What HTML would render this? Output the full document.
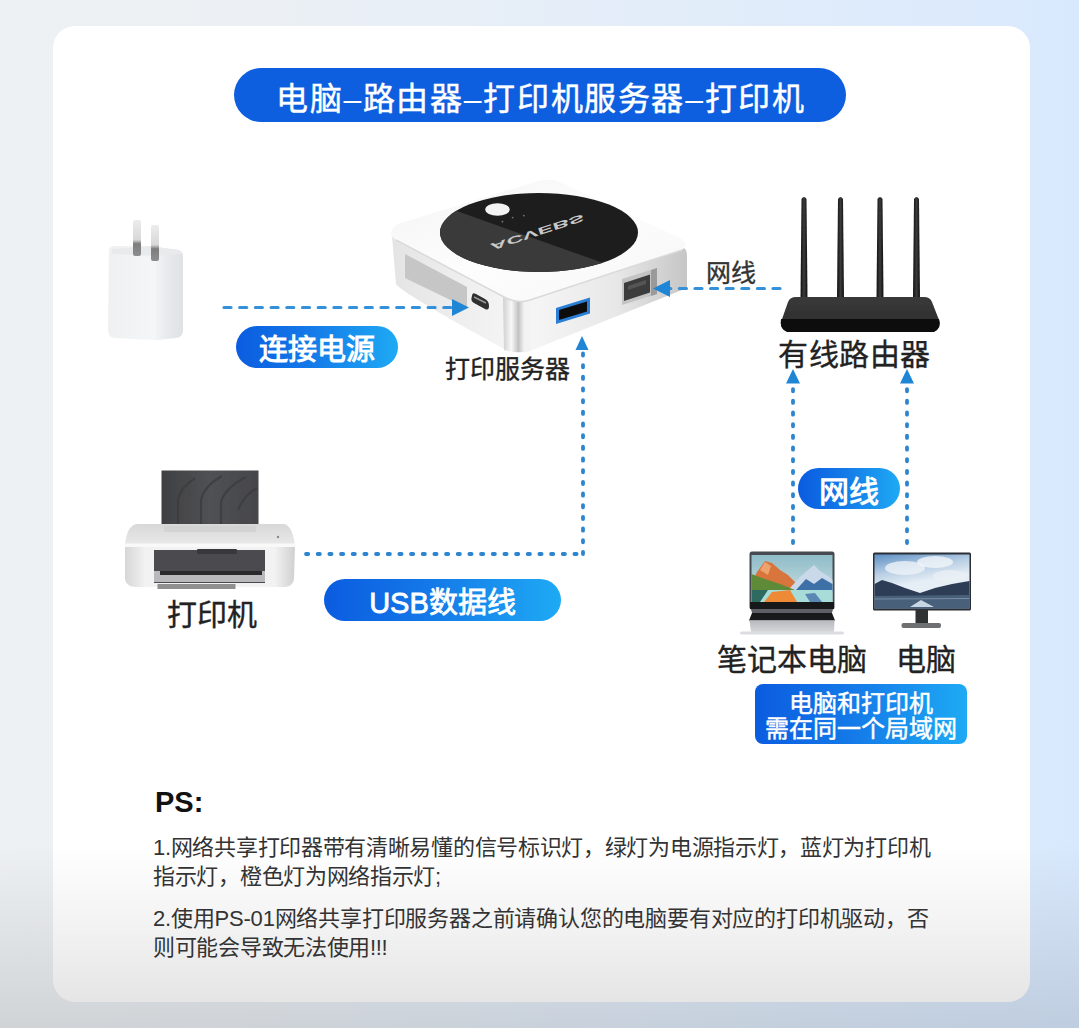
<!DOCTYPE html>
<html lang="zh-CN"><head><meta charset="utf-8">
<style>
html,body{margin:0;padding:0;}
body{width:1079px;height:1028px;overflow:hidden;position:relative;font-family:"Liberation Sans",sans-serif;
background:linear-gradient(90deg,#eef1f3 0%,#ecf0f4 22%,#e3edf9 60%,#d9e9fd 100%);}
#bgb{position:absolute;left:0;top:0;width:1079px;height:1028px;
background:linear-gradient(180deg,rgba(0,0,0,0) 0%,rgba(0,0,0,0) 82%,rgba(0,8,16,0.125) 100%);}
#card{position:absolute;left:53px;top:26px;width:977px;height:976px;border-radius:22px;
background:linear-gradient(180deg,#ffffff 0%,#ffffff 84%,#f3f3f3 92%,#e5e5e5 100%);}
.abs{position:absolute;}
.d{-webkit-text-stroke:0;}
.pill{position:absolute;color:#fff;text-align:center;white-space:nowrap;font-weight:bold;}
.grad{background:linear-gradient(90deg,#0b5ce0 0%,#1479e8 45%,#1eaaf4 100%);}
.lbl{position:absolute;white-space:nowrap;color:#222;font-weight:400;-webkit-text-stroke:0.35px #222;}
.ps{position:absolute;left:153px;white-space:nowrap;color:#333;font-size:22px;letter-spacing:-0.3px;}
</style></head><body>
<div id="bgb"></div>
<div id="card"></div>

<svg class="abs" style="left:0;top:0" width="1079" height="1028" viewBox="0 0 1079 1028">
<defs>
 <filter id="soft" x="-5%" y="-5%" width="110%" height="110%"><feGaussianBlur stdDeviation="0.6"/></filter>
 <filter id="soft2" x="-5%" y="-5%" width="110%" height="110%"><feGaussianBlur stdDeviation="0.45"/></filter>
 <linearGradient id="adFront" x1="0" y1="0" x2="1" y2="0"><stop offset="0" stop-color="#eef0f2"/><stop offset="0.85" stop-color="#f7f8f9"/><stop offset="1" stop-color="#ffffff"/></linearGradient>
 <linearGradient id="adSide" x1="0" y1="0" x2="1" y2="0"><stop offset="0" stop-color="#f2f3f5"/><stop offset="0.5" stop-color="#e6e8eb"/><stop offset="1" stop-color="#dfe1e4"/></linearGradient>
 <linearGradient id="prong" x1="0" y1="0" x2="0" y2="1"><stop offset="0" stop-color="#ececec"/><stop offset="0.55" stop-color="#d8d8d8"/><stop offset="0.66" stop-color="#7d7d7d"/><stop offset="1" stop-color="#8e8e8e"/></linearGradient>
 <linearGradient id="rtTop" x1="0" y1="0" x2="0" y2="1"><stop offset="0" stop-color="#3a3a3a"/><stop offset="1" stop-color="#2a2a2a"/></linearGradient>
 <linearGradient id="ant" x1="0" y1="0" x2="1" y2="0"><stop offset="0" stop-color="#111"/><stop offset="0.5" stop-color="#3a3a3a"/><stop offset="1" stop-color="#111"/></linearGradient>
 <linearGradient id="skyL" x1="0" y1="0" x2="0" y2="1"><stop offset="0" stop-color="#8fbcc8"/><stop offset="1" stop-color="#cfe3e6"/></linearGradient>
 <linearGradient id="skyM" x1="0" y1="0" x2="0.3" y2="1"><stop offset="0" stop-color="#5e8fc4"/><stop offset="0.35" stop-color="#b9cfe4"/><stop offset="0.6" stop-color="#e6eef5"/><stop offset="1" stop-color="#e8eff6"/></linearGradient>
 <linearGradient id="lapBase" x1="0" y1="0" x2="0" y2="1"><stop offset="0" stop-color="#b8b9be"/><stop offset="1" stop-color="#d6d7db"/></linearGradient>
 <linearGradient id="prFront" x1="0" y1="0" x2="1" y2="0"><stop offset="0" stop-color="#d6d6d6"/><stop offset="0.12" stop-color="#f2f2f2"/><stop offset="0.88" stop-color="#f2f2f2"/><stop offset="1" stop-color="#d0d0d0"/></linearGradient>
 <linearGradient id="prTop" x1="0" y1="0" x2="0" y2="1"><stop offset="0" stop-color="#d8d8d8"/><stop offset="1" stop-color="#e9e9e9"/></linearGradient>
 <linearGradient id="tray" x1="0" y1="0" x2="1" y2="0"><stop offset="0" stop-color="#3f4042"/><stop offset="0.5" stop-color="#505153"/><stop offset="1" stop-color="#45464a"/></linearGradient>
</defs>

<!-- ===== power adapter ===== -->
<g filter="url(#soft2)">
 <path d="M109 251 Q109 246 115 246 L150 246 L178 250 Q183 251 183 256 L183 330 Q183 337 176 338 L155 340 L115 338 Q108 337 108 330 Z" fill="url(#adFront)"/>
 <path d="M156 247 L178 250 Q183 251 183 256 L183 330 Q183 337 176 338 L156 340 Z" fill="url(#adSide)"/>
 <path d="M112 249 L150 246 L178 250 Q182 251 182 254 L156 256 L112 254 Z" fill="#e9eaec"/>
 <rect x="133" y="220" width="8" height="36" rx="2" fill="url(#prong)"/>
 <rect x="151" y="225" width="8" height="36" rx="2" fill="url(#prong)"/>
</g>

<!-- ===== router ===== -->
<g filter="url(#soft2)">
 <path d="M800.5 298 L801.5 199 Q804 195 806.5 199 L807.5 298 Z" fill="url(#ant)"/>
 <path d="M837 298 L838 199 Q840.5 195 843 199 L844 298 Z" fill="url(#ant)"/>
 <path d="M876.5 298 L877.5 199 Q880 195 882.5 199 L883.5 298 Z" fill="url(#ant)"/>
 <path d="M913 298 L914 199 Q916.5 195 919 199 L920 298 Z" fill="url(#ant)"/>
 <path d="M796 297 L924 297 Q930 297 932 302 L939 320 Q941 326 936 330 L931 332 L789 332 Q780 330 781 322 L788 302 Q790 297 796 297 Z" fill="url(#rtTop)"/>
 <path d="M781 319 L939 319 Q942 328 934 332 L787 332 Q779 328 781 319 Z" fill="#0b0b0b"/>
</g>

<!-- ===== laptop ===== -->
<g>
 <rect x="749.5" y="551.5" width="85" height="58" rx="2.5" fill="#464b52"/>
 <g filter="url(#soft)">
 <rect x="751.5" y="555" width="81" height="47" fill="url(#skyL)"/>
 <path d="M751.5 583 L757 572 L765 561 L772 563 L780 570 L788 575 L795 582 L800 588 L751.5 590 Z" fill="#d8743c"/>
 <path d="M760 570 L765 562 L771 566 L768 575 Z" fill="#eea36e"/>
 <path d="M790 588 L800 577 L808 570 L814 565 L820 571 L828 576 L832.5 580 L832.5 590 L790 590 Z" fill="#c9d9ea"/>
 <path d="M796 590 L806 579 L814 584 L822 578 L832.5 584 L832.5 592 L796 592 Z" fill="#3e6fa6"/>
 <path d="M751.5 574 L762 578 L780 584 L795 590 L751.5 592 Z" fill="#5f8a39"/>
 <rect x="751.5" y="590" width="81" height="12" fill="#a8dcd8"/>
 <path d="M764 602 L772 592 L790 590 L797 602 Z" fill="#ee8a36"/>
 <path d="M751.5 590 L768 590 L760 602 L751.5 602 Z" fill="#2e6a5e"/>
 <path d="M805 594 L815 593 L822 602 L810 602 Z" fill="#5a88b5"/>
 </g>
 <rect x="750" y="602" width="84" height="7" fill="#16181a"/>
 <path d="M751 609 L833 609 L832 613 L752 613 Z" fill="#5c5f65"/>
 <path d="M752 613 L832 613 L835 620.5 L749 620.5 Z" fill="#18191b"/>
 <path d="M749.5 620.5 L834.5 620.5 L834 632 L751 632 Z" fill="url(#lapBase)"/>
 <rect x="740" y="631.5" width="104" height="3" rx="1.5" fill="#dcdde0"/>
</g>

<!-- ===== monitor ===== -->
<g filter="url(#soft2)">
 <rect x="873" y="552.5" width="98" height="58" rx="1.5" fill="#2a2e34"/>
 <rect x="874.5" y="554.5" width="95" height="54" fill="url(#skyM)"/>
 <ellipse cx="905" cy="568" rx="20" ry="7" fill="#eef3f8" opacity="0.8"/>
 <ellipse cx="935" cy="562" rx="18" ry="6" fill="#f3f6fa" opacity="0.8"/>
 <ellipse cx="950" cy="576" rx="17" ry="6" fill="#e9eff5" opacity="0.8"/>
 <path d="M874.5 584 L882 580 L892 583 L905 588 L920 593 L935 588 L952 584 L969.5 581 L969.5 608.5 L874.5 608.5 Z" fill="#2d3d56"/>
 <path d="M874.5 596 L969.5 595 L969.5 608.5 L874.5 608.5 Z" fill="#4a607a"/>
 <path d="M874.5 599 L969.5 598.5" stroke="#8aa0b5" stroke-width="1" opacity="0.7"/>
 <path d="M910 607 L921 600 L934 607 Z" fill="#c8d6e4"/>
 <rect x="915.5" y="609.5" width="12.5" height="15" fill="#2f3033"/>
 <rect x="901.5" y="623" width="39.5" height="5" rx="2" fill="#6e6f72"/>
</g>

<!-- ===== printer ===== -->
<g filter="url(#soft2)">
 <rect x="161.5" y="470.5" width="97" height="56" fill="url(#tray)"/>
 <g filter="url(#soft)" stroke="#3b3c3f" stroke-width="2.2" fill="none" opacity="0.8">
  <path d="M178 526 L178 500 Q180 488 195 478"/>
  <path d="M201 526 L201 500 Q204 486 222 476"/>
  <path d="M221 526 L221 502 Q225 488 246 477"/>
  <path d="M238 510 Q244 495 257 488"/>
 </g>
 <path d="M137 524 L284 524 Q292 525 295 545 L125 545 Q127 525 137 524 Z" fill="url(#prTop)"/>
 <rect x="164" y="526" width="92" height="6" fill="#cfcfcf" opacity="0.7"/>
 <path d="M125 545 L295 545 L294 579 Q293 586 285 587 L135 587 Q126 586 125 579 Z" fill="url(#prFront)"/>
 <rect x="124.5" y="543.5" width="171" height="3.5" fill="#f9f9f9"/>
 <rect x="154" y="550" width="111" height="33" fill="#4b4c4f"/>
 <rect x="197" y="549" width="40" height="5" rx="1" fill="#38393b"/>
 <rect x="154" y="571" width="111" height="11" fill="#b9b9bb"/>
 <path d="M160 571 L262 571 L262 575 L160 575 Z" fill="#2a2a2c"/>
 <rect x="157.5" y="584" width="78" height="5" fill="#8f8f8f"/>
 <circle cx="278" cy="537" r="1.2" fill="#888"/>
</g>

<defs>
 <linearGradient id="psLeft" x1="0" y1="0" x2="1" y2="0"><stop offset="0" stop-color="#e4e4e4"/><stop offset="0.6" stop-color="#eeeeee"/><stop offset="1" stop-color="#f4f4f4"/></linearGradient>
 <linearGradient id="psRight" x1="0" y1="0" x2="1" y2="0"><stop offset="0" stop-color="#f6f6f6"/><stop offset="0.55" stop-color="#e8e8e8"/><stop offset="1" stop-color="#c6c6c6"/></linearGradient>
 <linearGradient id="psCorner" x1="0" y1="0" x2="1" y2="0"><stop offset="0" stop-color="#d0d0d0"/><stop offset="0.3" stop-color="#f8f8f8"/><stop offset="0.55" stop-color="#c2c2c2"/><stop offset="0.75" stop-color="#f2f2f2"/><stop offset="1" stop-color="#f4f4f4"/></linearGradient>
 <linearGradient id="psTop" x1="0" y1="0" x2="1" y2="1"><stop offset="0" stop-color="#f4f4f4"/><stop offset="0.5" stop-color="#fdfdfd"/><stop offset="1" stop-color="#f6f6f6"/></linearGradient>
 <clipPath id="discClip"><ellipse cx="539" cy="232.5" rx="99" ry="39.5"/></clipPath>
</defs>
<g>
 <!-- left face -->
 <path d="M392 236 L506 298 L506 350 Q400 292 396 284 Z" fill="url(#psLeft)"/>
 <!-- right face -->
 <path d="M528 300 L684 248 Q687 250 687 256 L687 288 L530 351 Z" fill="url(#psRight)"/>
 <!-- front corner strip -->
 <path d="M503 297 L531 299 L531 351 Q516 354 504 350 Z" fill="url(#psCorner)"/>
 <!-- top face -->
 <path d="M398 224 L538 181 Q550 178 560 182 L680 238 Q690 244 682 250 L530 300 Q518 304 506 298 L396 240 Q385 232 398 224 Z" fill="url(#psTop)"/>
 <path d="M396 240 L506 298 Q518 304 530 300 L682 250" stroke="#dadada" stroke-width="1.5" fill="none"/>
 <!-- vent -->
 <path d="M405 254 L467 287 L467 308 L405 278 Z" fill="#c6c6c6"/>
 <!-- usb-c -->
 <path d="M472 296 Q470 301 474 303 L485 309 Q489 311 489 306 Q489 301 485 299 L476 294 Q472 292 472 296 Z" fill="#2f2f2f"/>
 <path d="M474 297 L486 303" stroke="#9a9a9a" stroke-width="1.5"/>
 <!-- disc -->
 <ellipse cx="539" cy="232.5" rx="99" ry="39.5" fill="#1d1d1d"/>
 <path d="M420 198 L640 276 L420 290 Z" fill="#3a3a3a" clip-path="url(#discClip)"/>
 <ellipse cx="497.5" cy="209.5" rx="12.2" ry="6.2" fill="#f3f3f3"/>
 <circle cx="502.4" cy="221.7" r="0.9" fill="#777"/><circle cx="512.6" cy="217.6" r="0.9" fill="#777"/><circle cx="523.8" cy="215.6" r="0.9" fill="#777"/>
 <text x="0" y="0" transform="translate(537,231.5) rotate(162) scale(-1,1)" font-family="Liberation Sans" font-size="10" font-weight="bold" fill="#c8c8c8" text-anchor="middle" dominant-baseline="middle" textLength="98" lengthAdjust="spacingAndGlyphs">ACVEBS</text>
 <!-- usb-a -->
 <path d="M556 308 L590 297.5 L590 313.5 L556 324 Z" fill="#2a7fd4"/>
 <path d="M559 310 L587 301.5 L587 311.5 L559 320 Z" fill="#0d0d0d"/>
 <!-- ethernet -->
 <path d="M622 279 L657 268 L657 294 L622 305 Z" fill="#c4c4c4"/><path d="M651 270 L657 268 L657 294 L651 296 Z" fill="#9a9a9a"/>
 <path d="M624 283 L650 274.5 L650 292.5 L624 301 Z" fill="#3c3c3c"/><path d="M628 286 L646 280 L646 284 L628 290 Z" fill="#555"/>
</g>

<!-- ===== dashed lines ===== -->
<g stroke="#3490d8" stroke-width="3.2" fill="none" stroke-linecap="round">
 <line x1="224" y1="307.5" x2="452" y2="307.5" stroke-dasharray="7 8.7"/>
 <line x1="780" y1="288.5" x2="670" y2="288.5" stroke-dasharray="7 8.6"/>
</g>
<g stroke="#2d84cf" stroke-width="3.8" fill="none" stroke-dasharray="2.2 9.47" stroke-linecap="round">
 <line x1="306" y1="554" x2="583" y2="554"/>
 <line x1="583" y1="554" x2="583" y2="352"/>
 <line x1="793" y1="543" x2="793" y2="386"/>
 <line x1="907" y1="543" x2="907" y2="386"/>
</g>
<g fill="#1f86d6">
 <path d="M469 307.5 L452 299 L452 316 Z"/>
 <path d="M653 288.5 L670 280 L670 297 Z"/>
 <path d="M582 336 L575.5 350 L588.5 350 Z"/>
 <path d="M793 369 L786 383.5 L800 383.5 Z"/>
 <path d="M907 369 L900 383.5 L914 383.5 Z"/>
</g>

</svg>


<!-- title pill -->
<div class="pill" style="left:234px;top:68px;width:612px;height:54px;border-radius:27px;background:#0d5fdf;font-weight:normal;-webkit-text-stroke:0.45px #fff;font-size:32px;line-height:62px;letter-spacing:1.65px;text-indent:1.65px;">电脑<span class="d">–</span>路由器<span class="d">–</span>打印机服务器<span class="d">–</span>打印机</div>

<!-- label pills -->
<div class="pill grad" style="left:236px;top:326px;width:162px;height:42px;border-radius:21px;font-size:29px;line-height:48px;">连接电源</div>
<div class="pill grad" style="left:324px;top:579px;width:237px;height:42px;border-radius:21px;font-size:29px;line-height:48px;font-weight:normal;-webkit-text-stroke:0.8px #fff;">USB数据线</div>
<div class="pill grad" style="left:798px;top:468px;width:102px;height:41px;border-radius:20.5px;font-size:30px;line-height:47px;">网线</div>
<div class="pill grad" style="left:755px;top:684px;width:212px;height:60px;border-radius:8px;font-size:24px;line-height:25px;padding-top:7px;font-weight:normal;-webkit-text-stroke:0.5px #fff;box-sizing:border-box;">电脑和打印机<br>需在同一个局域网</div>

<!-- labels -->
<div class="lbl" style="left:445px;top:348.5px;font-size:25px;">打印服务器</div>
<div class="lbl" style="left:706px;top:253px;font-size:25px;color:#333;-webkit-text-stroke:0.35px #333;">网线</div>
<div class="lbl" style="left:778px;top:330px;font-size:30px;letter-spacing:0.6px;">有线路由器</div>
<div class="lbl" style="left:167px;top:590px;font-size:30px;">打印机</div>
<div class="lbl" style="left:717px;top:634.5px;font-size:30px;">笔记本电脑</div>
<div class="lbl" style="left:896px;top:634.5px;font-size:30px;">电脑</div>

<!-- PS text -->
<div class="abs" style="left:155px;top:786px;font-size:29px;font-weight:bold;color:#111;">PS:</div>
<div class="ps" style="top:829px;">1.网络共享打印器带有清晰易懂的信号标识灯，绿灯为电源指示灯，蓝灯为打印机</div>
<div class="ps" style="top:858px;">指示灯，橙色灯为网络指示灯;</div>
<div class="ps" style="top:900px;letter-spacing:-0.2px;">2.使用PS-01网络共享打印服务器之前请确认您的电脑要有对应的打印机驱动，否</div>
<div class="ps" style="top:928.5px;">则可能会导致无法使用!!!</div>

</body></html>
